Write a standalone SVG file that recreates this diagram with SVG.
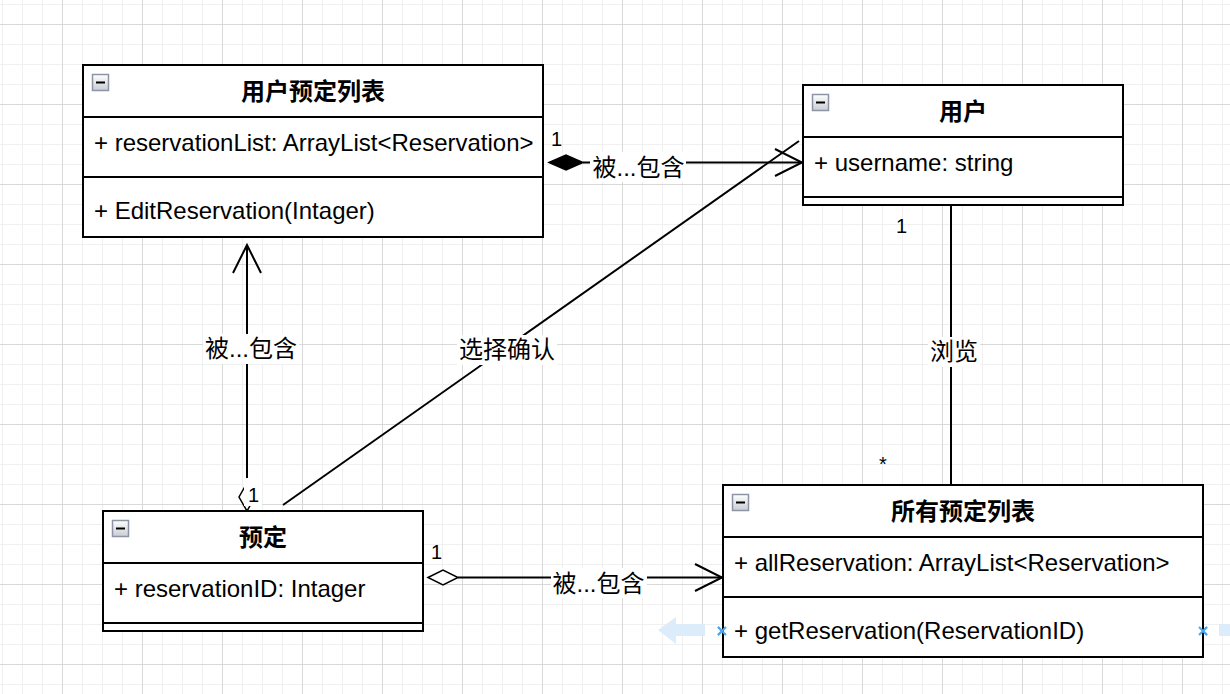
<svg xmlns="http://www.w3.org/2000/svg" width="1230" height="694" viewBox="0 0 1230 694">
<style>
.box{fill:#ffffff;stroke:#000000;stroke-width:2}
.sep{stroke:#000000;stroke-width:2;fill:none}
.edge{stroke:#000000;stroke-width:2;fill:none}
.title{font-family:"Liberation Sans","Noto Sans CJK SC",sans-serif;font-size:24px;font-weight:bold;text-anchor:middle;fill:#000}
.attr{font-family:"Liberation Sans","Noto Sans CJK SC",sans-serif;font-size:24px;fill:#000}
.lbl{font-family:"Liberation Sans","Noto Sans CJK SC",sans-serif;font-size:24px;text-anchor:middle;fill:#000}
.mult{font-family:"Liberation Sans","Noto Sans CJK SC",sans-serif;font-size:20px;fill:#000}
.bg{fill:#ffffff}
.icon{fill:url(#iconGrad);stroke:#8c94a5;stroke-width:1.5}
.minus{stroke:#000;stroke-width:2}
.hint{fill:#dcecfb}
.hx{stroke:#4da6f0;stroke-width:2}
</style>
<defs>
<linearGradient id="iconGrad" x1="0" y1="0" x2="0" y2="1">
<stop offset="0" stop-color="#ffffff"/>
<stop offset="1" stop-color="#c9ccd3"/>
</linearGradient>
<pattern id="grid" x="62" y="24" width="80" height="80" patternUnits="userSpaceOnUse">
<rect x="0" y="0" width="80" height="80" fill="#ffffff"/>
<rect x="20" y="0" width="1" height="80" fill="#f0f0f0"/>
<rect x="40" y="0" width="1" height="80" fill="#f0f0f0"/>
<rect x="60" y="0" width="1" height="80" fill="#f0f0f0"/>
<rect x="0" y="20" width="80" height="1" fill="#f0f0f0"/>
<rect x="0" y="40" width="80" height="1" fill="#f0f0f0"/>
<rect x="0" y="60" width="80" height="1" fill="#f0f0f0"/>
<rect x="0" y="0" width="1" height="80" fill="#d9d9d9"/>
<rect x="0" y="0" width="80" height="1" fill="#d9d9d9"/>
</pattern>
</defs>
<rect x="0" y="0" width="1230" height="694" fill="url(#grid)"/>

<!-- UI hover artifacts -->
<g id="hover-hints">
<polygon class="hint" points="658,630 676,617 676,624 705,624 705,636 676,636 676,644"/>
<rect class="hint" x="1219" y="624" width="11" height="12"/>
<path class="hx" d="M718,627 L726,635 M726,627 L718,635"/>
<path class="hx" d="M1199,627 L1207,635 M1207,627 L1199,635"/>
</g>

<g id="connectors">
<!-- composition: 用户预定列表 -> 用户 -->
<g id="edge-composition">
<line class="edge" x1="583" y1="162.5" x2="802" y2="162.5"/>
<polygon points="549,162.5 566,155 583,162.5 566,170" fill="#000" stroke="#000" stroke-width="1.5"/>
<polyline class="edge" points="775,149 802,162.5 775,176"/>
<rect class="bg" x="590" y="152" width="96" height="30"/>
<text class="lbl" x="638.5" y="176">被...包含</text>
<text class="mult" x="551" y="146">1</text>
</g>
<!-- 预定 -> 用户预定列表 -->
<g id="edge-vertical">
<line class="edge" x1="247" y1="246" x2="247" y2="483"/>
<polyline class="edge" points="233,273 247,245 261,273"/>
<polygon points="247,483 255,497 247,511 239,497" fill="#fff" stroke="#000" stroke-width="1.5"/>
<rect class="bg" x="244" y="478" width="18" height="28"/>
<text class="mult" x="248" y="502">1</text>
<rect class="bg" x="203" y="334" width="96" height="30"/>
<text class="lbl" x="251" y="357">被...包含</text>
</g>
<!-- 选择确认 -->
<g id="edge-select">
<line class="edge" x1="283" y1="505" x2="799" y2="141"/>
<rect class="bg" x="457" y="335" width="100" height="30"/>
<text class="lbl" x="507" y="358">选择确认</text>
</g>
<!-- 浏览 -->
<g id="edge-browse">
<line class="edge" x1="951" y1="205" x2="951" y2="485"/>
<rect class="bg" x="928" y="337" width="52" height="30"/>
<text class="lbl" x="954" y="360">浏览</text>
<text class="mult" x="896" y="233">1</text>
<text class="mult" x="883" y="471" text-anchor="middle">*</text>
</g>
<!-- aggregation: 预定 -> 所有预定列表 -->
<g id="edge-aggregation">
<line class="edge" x1="458" y1="577.5" x2="722" y2="577.5"/>
<polygon points="428,577.5 443,570 458,577.5 443,585" fill="#fff" stroke="#000" stroke-width="1.5"/>
<polyline class="edge" points="695,564 722,577.5 695,591"/>
<rect class="bg" x="551" y="568" width="96" height="30"/>
<text class="lbl" x="598.5" y="592">被...包含</text>
<text class="mult" x="431" y="559">1</text>
</g>
</g>

<g id="node-user-reservation-list">
<rect class="box" x="83" y="65" width="460" height="172"/>
<line class="sep" x1="83" y1="117" x2="543" y2="117"/>
<line class="sep" x1="83" y1="177" x2="543" y2="177"/>
<rect class="icon" x="92.5" y="74.5" width="16" height="16"/>
<line class="minus" x1="96" y1="82.5" x2="105" y2="82.5"/>
<text class="title" x="313" y="100">用户预定列表</text>
<text class="attr" x="94" y="151">+ reservationList: ArrayList&lt;Reservation&gt;</text>
<text class="attr" x="94" y="219">+ EditReservation(Intager)</text>
</g>

<g id="node-user">
<rect class="box" x="803" y="85" width="320" height="120"/>
<line class="sep" x1="803" y1="137" x2="1123" y2="137"/>
<line class="sep" x1="803" y1="197" x2="1123" y2="197"/>
<rect class="icon" x="812.5" y="94.5" width="16" height="16"/>
<line class="minus" x1="816" y1="102.5" x2="825" y2="102.5"/>
<text class="title" x="963" y="120">用户</text>
<text class="attr" x="814" y="171">+ username: string</text>
</g>

<g id="node-reservation">
<rect class="box" x="103" y="511" width="320" height="120"/>
<line class="sep" x1="103" y1="563" x2="423" y2="563"/>
<line class="sep" x1="103" y1="623" x2="423" y2="623"/>
<rect class="icon" x="112.5" y="520.5" width="16" height="16"/>
<line class="minus" x1="116" y1="528.5" x2="125" y2="528.5"/>
<text class="title" x="263" y="546">预定</text>
<text class="attr" x="114" y="597">+ reservationID: Intager</text>
</g>

<g id="node-all-reservation-list">
<rect class="box" x="723" y="485" width="480" height="172"/>
<line class="sep" x1="723" y1="537" x2="1203" y2="537"/>
<line class="sep" x1="723" y1="597" x2="1203" y2="597"/>
<rect class="icon" x="732.5" y="494.5" width="16" height="16"/>
<line class="minus" x1="736" y1="502.5" x2="745" y2="502.5"/>
<text class="title" x="963" y="520">所有预定列表</text>
<text class="attr" x="734" y="571">+ allReservation: ArrayList&lt;Reservation&gt;</text>
<text class="attr" x="734" y="639">+ getReservation(ReservationID)</text>
</g>

<!-- hover x marks drawn over box border -->
<g id="hover-marks">
<path class="hx" d="M718,627 L726,635 M726,627 L718,635"/>
<path class="hx" d="M1199,627 L1207,635 M1207,627 L1199,635"/>
</g>
</svg>
